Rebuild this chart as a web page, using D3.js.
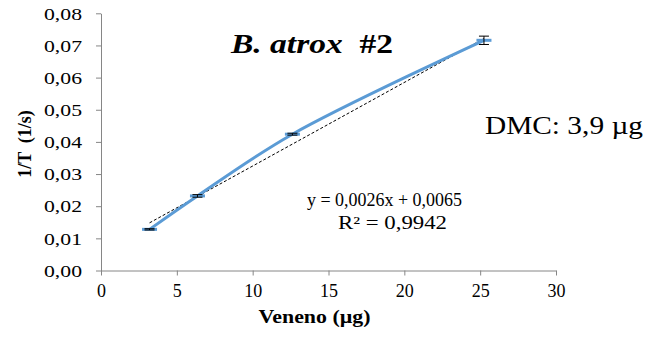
<!DOCTYPE html>
<html>
<head>
<meta charset="utf-8">
<script src="https://cdn.jsdelivr.net/npm/d3@7"></script>
<style>
  html, body { margin: 0; padding: 0; background: #fff; }
  svg { display: block; font-family: "Liberation Serif", "Times New Roman", serif; }
</style>
</head>
<body>
<svg id="chart" width="645" height="343"></svg>
<script>
// Venom dose (µg) and clotting rate 1/T (1/s)
const venom = [3.2, 6.36, 12.62, 25.25];
const rate = [0.0128, 0.0232, 0.0424, 0.0716];
const rateErr = [0.0002, 0.0004, 0.0003, 0.0013];

// Linear trendline y = slope*x + intercept
const slope = 0.0026;
const intercept = 0.0065;
const equationLines = ["y = 0,0026x + 0,0065", "R² = 0,9942"];

const xTicks = [0, 5, 10, 15, 20, 25, 30];
const yTicks = [0, 0.01, 0.02, 0.03, 0.04, 0.05, 0.06, 0.07, 0.08];

const svg = d3.select("#chart");
const plotLeft = 101, plotRight = 556, plotTop = 13.3, plotBottom = 270.5;

const x = d3.scaleLinear().domain([0, 30]).range([plotLeft, plotRight]);
const y = d3.scaleLinear().domain([0, 0.08]).range([plotBottom, plotTop]);

const axisColor = "#868686";
const fmtY = d => d3.format(".2f")(d).replace(".", ",");

// Y axis
const yAxis = svg.append("g")
  .attr("transform", `translate(${plotLeft},0)`)
  .call(d3.axisLeft(y).tickValues(yTicks).tickFormat(fmtY).tickSize(5).tickSizeOuter(0).tickPadding(14));
yAxis.select(".domain").attr("stroke", axisColor);
yAxis.selectAll(".tick line").attr("stroke", axisColor);
yAxis.selectAll(".tick text")
  .attr("fill", "#000").attr("font-size", 17).attr("font-family", "Liberation Serif")
  .attr("textLength", 38).attr("lengthAdjust", "spacingAndGlyphs")
  .attr("dy", "0.34em");

// X axis
const xAxis = svg.append("g")
  .attr("transform", `translate(0,${plotBottom})`)
  .call(d3.axisBottom(x).tickValues(xTicks).tickFormat(d3.format("d")).tickSize(5).tickSizeOuter(0).tickPadding(6));
xAxis.select(".domain").attr("stroke", axisColor);
xAxis.selectAll(".tick line").attr("stroke", axisColor);
xAxis.selectAll(".tick text")
  .attr("fill", "#000").attr("font-size", 18).attr("font-family", "Liberation Serif")
  .attr("dy", "0.85em");

// Axis titles
svg.append("text")
  .attr("x", x(15) - 14).attr("y", 323)
  .attr("text-anchor", "middle")
  .attr("font-size", 18).attr("font-weight", "bold")
  .attr("textLength", 112).attr("lengthAdjust", "spacingAndGlyphs")
  .text("Veneno (µg)");

svg.append("text")
  .attr("transform", `translate(31,${144}) rotate(-90)`)
  .attr("text-anchor", "middle")
  .attr("font-size", 18).attr("font-weight", "bold")
  .style("white-space", "pre")
  .text("1/T  (1/s)");

// Trendline (dashed black)
const xMin = d3.min(venom), xMax = d3.max(venom);
svg.append("line")
  .attr("x1", x(xMin)).attr("y1", y(slope * xMin + intercept))
  .attr("x2", x(xMax)).attr("y2", y(slope * xMax + intercept))
  .attr("stroke", "#000").attr("stroke-width", 1)
  .attr("stroke-dasharray", "3,2");

// Smoothed series line
const pts = venom.map((v, i) => [v, rate[i]]);
const blue = "#5B9BD5";
svg.append("path")
  .datum(pts)
  .attr("fill", "none")
  .attr("stroke", blue)
  .attr("stroke-width", 3)
  .attr("d", d3.line().x(d => x(d[0])).y(d => y(d[1])).curve(d3.curveCatmullRom.alpha(0.5)));

// Dash markers
svg.append("g").selectAll("rect")
  .data(pts)
  .join("rect")
  .attr("x", d => x(d[0]) - 7.5)
  .attr("y", d => y(d[1]) - 1.5)
  .attr("width", 15).attr("height", 3)
  .attr("fill", blue);

// Error bars
const eb = svg.append("g").attr("stroke", "#000").attr("stroke-width", 1);
pts.forEach((d, i) => {
  const cx = x(d[0]);
  const y0 = y(d[1] - rateErr[i]), y1 = y(d[1] + rateErr[i]);
  eb.append("line").attr("x1", cx).attr("x2", cx).attr("y1", y0).attr("y2", y1);
  eb.append("line").attr("x1", cx - 5).attr("x2", cx + 5).attr("y1", y0).attr("y2", y0);
  eb.append("line").attr("x1", cx - 5).attr("x2", cx + 5).attr("y1", y1).attr("y2", y1);
});

// Title
const title = svg.append("text")
  .attr("x", 231).attr("y", 53)
  .attr("font-size", 28).attr("font-weight", "bold")
  .attr("textLength", 162).attr("lengthAdjust", "spacingAndGlyphs")
  .style("white-space", "pre");
title.append("tspan").attr("font-style", "italic").text("B. atrox");
title.append("tspan").text("  #2");

// DMC annotation
svg.append("text")
  .attr("x", 485).attr("y", 134)
  .attr("font-size", 26)
  .attr("textLength", 158).attr("lengthAdjust", "spacingAndGlyphs")
  .style("white-space", "pre")
  .text("DMC: 3,9 µg");

// Trendline equation
const eqX = [307, 338], eqW = [155, 109];
svg.append("g").selectAll("text")
  .data(equationLines)
  .join("text")
  .attr("x", (d, i) => eqX[i]).attr("y", (d, i) => 206 + i * 23)
  .attr("font-size", 18)
  .attr("textLength", (d, i) => eqW[i]).attr("lengthAdjust", "spacingAndGlyphs")
  .text(d => d);
</script>
</body>
</html>
